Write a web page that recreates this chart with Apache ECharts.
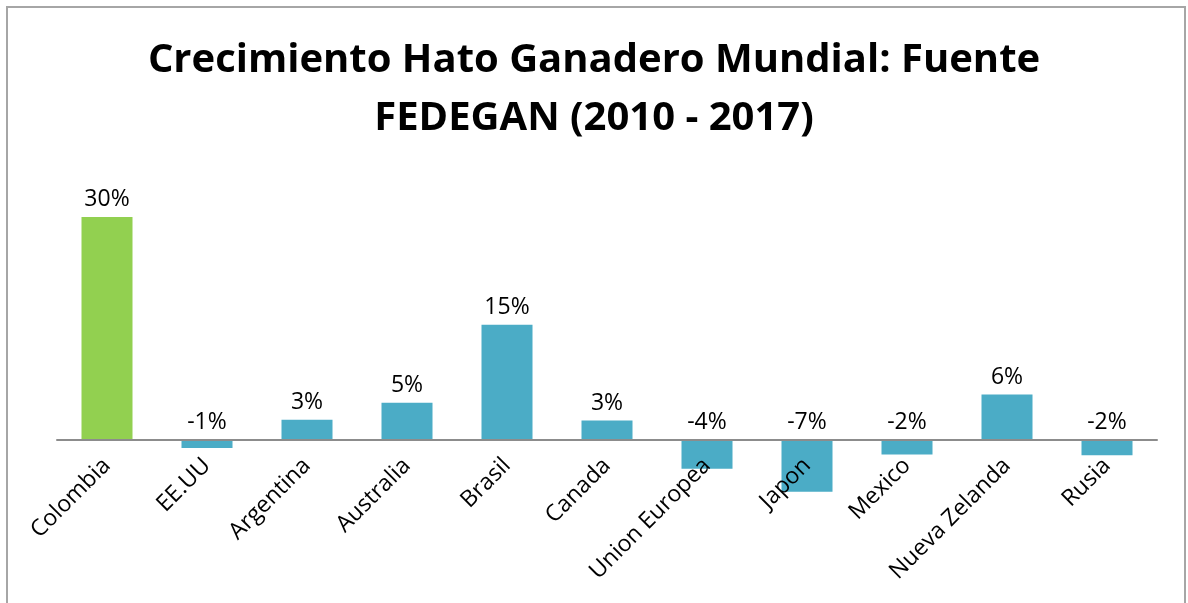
<!DOCTYPE html>
<html>
<head>
<meta charset="utf-8">
<script src="https://cdn.jsdelivr.net/npm/echarts@6/dist/echarts.min.js"></script>
<style>
  html, body { margin: 0; padding: 0; background: #fff; }
  #main { width: 1188px; height: 603px; }
</style>
</head>
<body>
<div id="main"></div>
<script>
// datos
var paises = ['Colombia', 'EE.UU', 'Argentina', 'Australia', 'Brasil', 'Canada',
  'Union Europea', 'Japon', 'Mexico', 'Nueva Zelanda', 'Rusia']
var crecimiento = [0.30, -0.011, 0.027, 0.05, 0.155, 0.026, -0.039, -0.07, -0.02, 0.061, -0.021]
var etiquetas = ['30%', '-1%', '3%', '5%', '15%', '3%', '-4%', '-7%', '-2%', '6%', '-2%']

var verde = '#92D050', azul = '#4BACC6'
var fuente = '"Open Sans", sans-serif'

var myChart = echarts.init(document.getElementById('main'))

var option = {
    backgroundColor: '#fff',
    animation: false,
    title: {
        text: 'Crecimiento Hato Ganadero Mundial: Fuente\nFEDEGAN (2010 - 2017)',
        left: 'center',
        top: 27,
        textStyle: {
            fontFamily: fuente,
            fontWeight: 'bold',
            fontSize: 40,
            lineHeight: 58,
            color: '#000'
        }
    },
    graphic: [{
        type: 'rect',
        shape: { x: 7, y: 7, width: 1178, height: 640 },
        style: { fill: 'none', stroke: '#a6a6a6', lineWidth: 2 },
        z: 10
    }],
    grid: {
        left: 57,
        width: 1100,
        top: 180,
        height: 334,
        outerBoundsMode: 'none',
        containLabel: false
    },
    xAxis: {
        type: 'category',
        data: paises,
        z: 5, // texto por encima de las barras negativas (Japon)
        axisLine: { onZero: true, lineStyle: { color: '#8c8c8c', width: 2 } },
        axisTick: { show: false },
        axisLabel: {
            rotate: 45,
            interval: 0,
            // las etiquetas quedan en el borde del grid, se suben hasta el cero
            margin: -52,
            fontFamily: fuente,
            fontSize: 23,
            color: '#000'
        }
    },
    yAxis: {
        type: 'value',
        min: -0.10,
        max: 0.35,
        show: false,
        splitLine: { show: false }
    },
    series: [{
        type: 'bar',
        barWidth: 51,
        data: crecimiento.map(function (v, i) {
            return {
                value: v,
                itemStyle: { color: i === 0 ? verde : azul }
            }
        }),
        label: {
            show: true,
            position: 'top',
            distance: 6,
            fontFamily: fuente,
            fontSize: 23,
            color: '#000',
            formatter: function (p) { return etiquetas[p.dataIndex] }
        }
    }]
}

myChart.setOption(option)
</script>
</body>
</html>
